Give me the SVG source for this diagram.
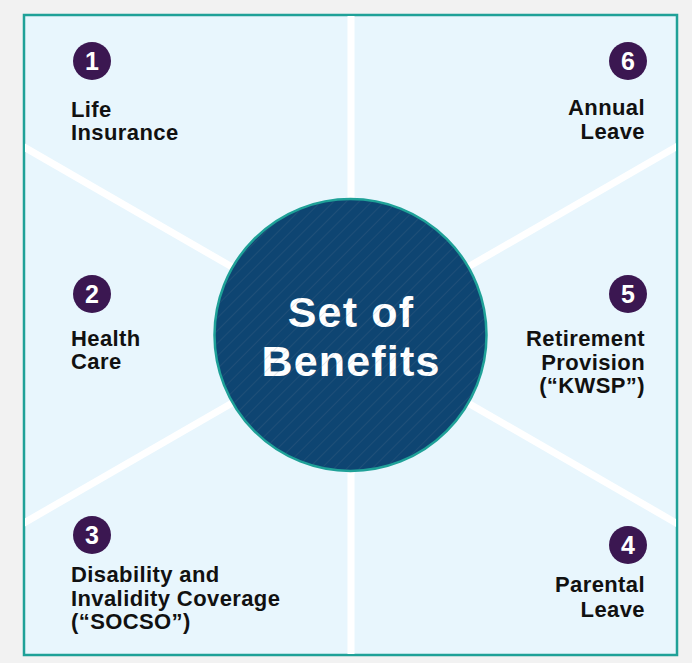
<svg xmlns="http://www.w3.org/2000/svg" width="692" height="663" viewBox="0 0 692 663">
<defs>
<clipPath id="panelClip"><rect x="25" y="16" width="651" height="638"/></clipPath>
<pattern id="hatch" width="9" height="9" patternUnits="userSpaceOnUse" patternTransform="rotate(45)">
<line x1="0" y1="0" x2="0" y2="9" stroke="#6a7f95" stroke-width="1" stroke-opacity="0.35"/>
</pattern>
</defs>
<style>
.spoke{stroke:#ffffff;stroke-width:7;fill:none}
.badge{fill:#3b1751}
.num{font-family:"Liberation Sans",Arial,sans-serif;font-weight:bold;font-size:25px;fill:#ffffff;text-anchor:middle}
.lbl{font-family:"Liberation Sans",Arial,sans-serif;font-weight:bold;font-size:22px;letter-spacing:0.4px;fill:#111111}
.r{text-anchor:end}
.hub{font-family:"Liberation Sans",Arial,sans-serif;font-weight:bold;font-size:43px;letter-spacing:1.2px;fill:#ffffff;text-anchor:middle}
</style>
<rect x="0" y="0" width="692" height="663" fill="#f2f2f2"/>
<rect id="panel" x="24" y="15" width="653" height="640" fill="#e8f6fd" stroke="#1fa198" stroke-width="2.5"/>
<g id="connectors" clip-path="url(#panelClip)">
<line class="spoke" x1="351" y1="15" x2="351" y2="655"/>
<line class="spoke" x1="350" y1="335" x2="10" y2="139"/>
<line class="spoke" x1="350" y1="335" x2="10" y2="531"/>
<line class="spoke" x1="350" y1="335" x2="690" y2="139"/>
<line class="spoke" x1="350" y1="335" x2="690" y2="531"/>
</g>
<g id="hub">
<circle cx="350.5" cy="335" r="136" fill="#0e4572" stroke="#1fa198" stroke-width="2.5"/>
<text class="hub" x="351" y="327">Set of</text>
<text class="hub" x="351" y="376">Benefits</text>
<circle cx="350.5" cy="335" r="134.5" fill="url(#hatch)"/>
</g>
<g id="node1">
<circle class="badge" cx="92" cy="61" r="19"/>
<text class="num" x="92" y="70">1</text>
<text class="lbl" x="71" y="117">Life</text>
<text class="lbl" x="71" y="140">Insurance</text>
</g>
<g id="node2">
<circle class="badge" cx="92" cy="294" r="19"/>
<text class="num" x="92" y="303">2</text>
<text class="lbl" x="71" y="346">Health</text>
<text class="lbl" x="71" y="369">Care</text>
</g>
<g id="node3">
<circle class="badge" cx="92" cy="535" r="19"/>
<text class="num" x="92" y="544">3</text>
<text class="lbl" x="71" y="582">Disability and</text>
<text class="lbl" x="71" y="606">Invalidity Coverage</text>
<text class="lbl" x="71" y="629">(“SOCSO”)</text>
</g>
<g id="node4">
<circle class="badge" cx="628" cy="545" r="19"/>
<text class="num" x="628" y="554">4</text>
<text class="lbl r" x="645" y="592">Parental</text>
<text class="lbl r" x="645" y="617">Leave</text>
</g>
<g id="node5">
<circle class="badge" cx="628" cy="294" r="19"/>
<text class="num" x="628" y="303">5</text>
<text class="lbl r" x="645" y="346">Retirement</text>
<text class="lbl r" x="645" y="370">Provision</text>
<text class="lbl r" x="645" y="393">(“KWSP”)</text>
</g>
<g id="node6">
<circle class="badge" cx="628" cy="61" r="19"/>
<text class="num" x="628" y="70">6</text>
<text class="lbl r" x="645" y="115">Annual</text>
<text class="lbl r" x="645" y="139">Leave</text>
</g>
</svg>
